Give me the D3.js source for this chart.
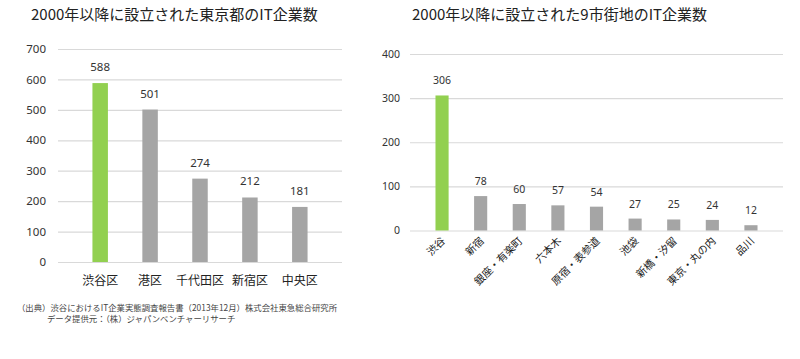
<!DOCTYPE html>
<html>
<head>
<meta charset="utf-8">
<script src="https://cdn.jsdelivr.net/npm/d3@7"></script>
<style>
  body { margin: 0; background: #fff; }
  text { font-family: "Noto Sans CJK JP", "Noto Sans", sans-serif; }
</style>
</head>
<body>
<div id="chart"></div>
<script>
        // Data
        const tokyoWards = ["渋谷区", "港区", "千代田区", "新宿区", "中央区"];
        const tokyoValues = [588, 501, 274, 212, 181];
        const tokyoTicks = [0, 100, 200, 300, 400, 500, 600, 700];

        const cityAreas = ["渋谷", "新宿", "銀座・有楽町", "六本木", "原宿・表参道", "池袋", "新橋・汐留", "東京・丸の内", "品川"];
        const cityValues = [306, 78, 60, 57, 54, 27, 25, 24, 12];
        const cityTicks = [0, 100, 200, 300, 400];

        const titles = ["2000年以降に設立された東京都のIT企業数", "2000年以降に設立された9市街地のIT企業数"];
        const notes = ["（出典）渋谷におけるIT企業実態調査報告書（2013年12月）株式会社東急総合研究所", "データ提供元：（株）ジャパンベンチャーリサーチ"];

        const width = 800;
        const height = 359;
        const green = "#92d050";
        const grey = "#a5a5a5";

        const svg = d3.select("#chart")
            .append("svg")
            .attr("width", width)
            .attr("height", height);

        function drawChart(opt) {
            const g = svg.append("g");

            const x = d3.scaleBand()
                .domain(opt.cats)
                .range([opt.left, opt.right])
                .padding(opt.pad);

            const y = d3.scaleLinear()
                .domain([0, d3.max(opt.ticks)])
                .range([opt.bottom, opt.top]);

            // title
            g.append("text")
                .attr("x", opt.titleX)
                .attr("y", 20)
                .attr("font-size", "15px")
                .attr("fill", "#222")
                .text(opt.title);

            // gridlines + y labels
            const yAxis = d3.axisLeft(y)
                .tickValues(opt.ticks)
                .tickSize(-(opt.right - opt.left))
                .tickPadding(opt.tickPad);

            const ya = g.append("g")
                .attr("transform", `translate(${opt.left},0)`)
                .call(yAxis);
            ya.select(".domain").remove();
            ya.selectAll(".tick line").attr("stroke", "#d9d9d9").attr("stroke-width", 1.2);
            ya.selectAll(".tick text")
                .attr("fill", "#333")
                .attr("font-size", opt.yFont)
                .style("font-family", "'Noto Sans', sans-serif");

            // bars
            g.append("g")
                .selectAll("rect")
                .data(opt.values)
                .enter()
                .append("rect")
                .attr("x", (d, i) => x(opt.cats[i]))
                .attr("y", d => y(d))
                .attr("width", x.bandwidth())
                .attr("height", d => opt.bottom - y(d))
                .attr("fill", (d, i) => i === 0 ? green : grey);

            // value labels
            g.append("g")
                .selectAll("text")
                .data(opt.values)
                .enter()
                .append("text")
                .attr("x", (d, i) => x(opt.cats[i]) + x.bandwidth() / 2)
                .attr("y", d => y(d) - opt.labelGap)
                .attr("text-anchor", "middle")
                .attr("font-size", opt.valFont)
                .attr("fill", "#333")
                .style("font-family", "'Noto Sans', sans-serif")
                .text(d => d);

            // category labels
            const cx = g.append("g")
                .selectAll("text")
                .data(opt.cats)
                .enter()
                .append("text")
                .attr("font-size", opt.catFont)
                .attr("fill", "#222")
                .text(d => d);

            if (opt.rotate) {
                cx.attr("text-anchor", "end")
                    .attr("transform", d => `translate(${x(d) + x.bandwidth() / 2 + 4},${opt.bottom + 11}) rotate(-45)`);
            } else {
                cx.attr("text-anchor", "middle")
                    .attr("x", d => x(d) + x.bandwidth() / 2)
                    .attr("y", opt.bottom + 23);
            }
        }

        drawChart({
            cats: tokyoWards, values: tokyoValues, ticks: tokyoTicks,
            left: 58, right: 342, top: 49, bottom: 262, pad: 0.69,
            title: titles[0], titleX: 31, tickPad: 12, yFont: "11.5px",
            valFont: "11.5px", catFont: "12px", labelGap: 12, rotate: false
        });

        drawChart({
            cats: cityAreas, values: cityValues, ticks: cityTicks,
            left: 410, right: 783, top: 54, bottom: 230.5, pad: 0.66,
            title: titles[1], titleX: 412, tickPad: 10, yFont: "10.5px",
            valFont: "10.5px", catFont: "10.5px", labelGap: 11, rotate: true
        });

        // source note
        svg.append("g")
            .selectAll("text")
            .data(notes)
            .enter()
            .append("text")
            .attr("x", (d, i) => i === 0 ? 17 : 47)
            .attr("y", (d, i) => 311 + i * 11)
            .attr("font-size", "8.4px")
            .attr("fill", "#444")
            .text(d => d);
</script>
</body>
</html>
